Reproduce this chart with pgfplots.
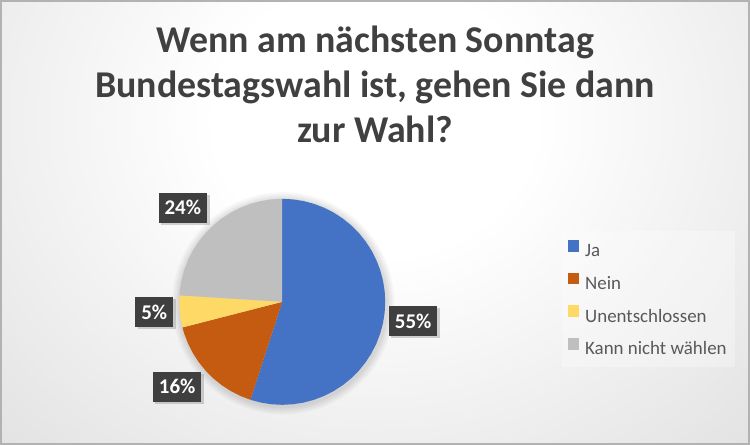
\documentclass[border=0pt]{standalone}
\usepackage{pgfplots}
\pgfplotsset{compat=1.18}
\usepgfplotslibrary{polar}
\usetikzlibrary{shadows}
\usepackage{fontspec}
\setmainfont{Carlito}
\definecolor{cJa}{HTML}{4472C4}
\definecolor{cNein}{HTML}{C55A11}
\definecolor{cUnent}{HTML}{FFD966}
\definecolor{cKann}{HTML}{BFBFBF}
\definecolor{titlegray}{HTML}{404040}
\definecolor{legendgray}{HTML}{595959}
\definecolor{boxgray}{HTML}{3F3F3F}
\pgfdeclareradialshading{bgshade}{\pgfpointorigin}{color(0bp)=(white); color(10bp)=(white); color(50bp)=(black!19); color(70bp)=(black!25); color(100bp)=(black!25)}
\begin{document}
\begin{tikzpicture}[x=1bp,y=1bp]
\useasboundingbox (0,0) rectangle (750,445);
\begin{scope}
\clip (0,0) rectangle (750,445);
\shade[shading=bgshade] (-25,-15) rectangle (775,665);
\end{scope}
\draw[black!30, line width=2bp] (1,1) rectangle (749,444);
\begin{axis}[at={(0,0)}, anchor=south west, width=750bp, height=445bp, scale only axis,
  xmin=0, xmax=750, ymin=0, ymax=445, hide axis, clip=false,
  legend style={at={(axis description cs:0.7493,0.4809)}, anchor=north west, draw=none,
    fill=white, fill opacity=0.3, text opacity=1, font=\fontsize{19}{22}\selectfont,
    text=legendgray, row sep=12.5bp, inner xsep=6bp, inner ysep=9bp},
  legend cell align=left,
  legend image code/.code={\fill[#1, fill opacity=1] (0bp,-0.5bp) rectangle (11bp,11bp); \path (15bp,0bp);}]
\addlegendimage{fill=cJa, draw=none}\addlegendentry{Ja}
\addlegendimage{fill=cNein, draw=none}\addlegendentry{Nein}
\addlegendimage{fill=cUnent, draw=none}\addlegendentry{Unentschlossen}
\addlegendimage{fill=cKann, draw=none}\addlegendentry{Kann nicht wählen}
\node[anchor=base, text=titlegray, font=\bfseries\fontsize{38}{44}\selectfont] at (axis cs:375,392) {Wenn am nächsten Sonntag};
\node[anchor=base, text=titlegray, font=\bfseries\fontsize{38}{44}\selectfont] at (axis cs:375,347) {Bundestagswahl ist, gehen Sie dann};
\node[anchor=base, text=titlegray, font=\bfseries\fontsize{38}{44}\selectfont] at (axis cs:375,302) {zur Wahl?};
\end{axis}
\begin{polaraxis}[at={(274,139)}, anchor=center, width=206bp, height=206bp, scale only axis,
  ymin=0, ymax=1, hide axis, clip=false]
% soft shadow of the pie
\fill[black, opacity=0.03] (axis cs:0,0) ++(1bp,-1.5bp) circle[radius=111bp];
\fill[black, opacity=0.03] (axis cs:0,0) ++(1bp,-1.5bp) circle[radius=109bp];
\fill[black, opacity=0.035] (axis cs:0,0) ++(1bp,-1.5bp) circle[radius=107bp];
\fill[black, opacity=0.035] (axis cs:0,0) ++(1bp,-1.5bp) circle[radius=105bp];
% Ja 55%
\addplot[fill=cJa, draw=none] coordinates {(0,0) (90,1) (84,1) (78,1) (72,1) (66,1) (60,1) (54,1) (48,1) (42,1) (36,1) (30,1) (24,1) (18,1) (12,1) (6,1) (0,1) (-6,1) (-12,1) (-18,1) (-24,1) (-30,1) (-36,1) (-42,1) (-48,1) (-54,1) (-60,1) (-66,1) (-72,1) (-78,1) (-84,1) (-90,1) (-96,1) (-102,1) (-108,1)};
% Nein 16%
\addplot[fill=cNein, draw=none] coordinates {(0,0) (-108,1) (-114,1) (-120,1) (-126,1) (-132,1) (-138,1) (-144,1) (-150,1) (-156,1) (-162,1) (-165.6,1)};
% Unentschlossen 5%
\addplot[fill=cUnent, draw=none] coordinates {(0,0) (-165.6,1) (-171,1) (-177,1) (-183.6,1)};
% Kann nicht waehlen 24%
\addplot[fill=cKann, draw=none] coordinates {(0,0) (-183.6,1) (-186,1) (-192,1) (-198,1) (-204,1) (-210,1) (-216,1) (-222,1) (-228,1) (-234,1) (-240,1) (-246,1) (-252,1) (-258,1) (-264,1) (-270,1)};
% data labels
\addplot[draw=none, point meta=explicit symbolic,
  nodes near coords={\bfseries\fontsize{21}{25}\selectfont\pgfplotspointmeta},
  nodes near coords align={center},
  every node near coord/.append style={anchor=center, fill=boxgray, text=white,
    inner xsep=6bp, inner ysep=0bp, minimum height=30bp, overlay,
    drop shadow={shadow xshift=2.5bp, shadow yshift=-2.5bp, opacity=0.35}}]
  coordinates {(-8.3,1.285) [55\%] (-141,1.312) [16\%] (184.5,1.247) [5\%] (136.5,1.33) [24\%]};
\end{polaraxis}
\end{tikzpicture}
\end{document}
